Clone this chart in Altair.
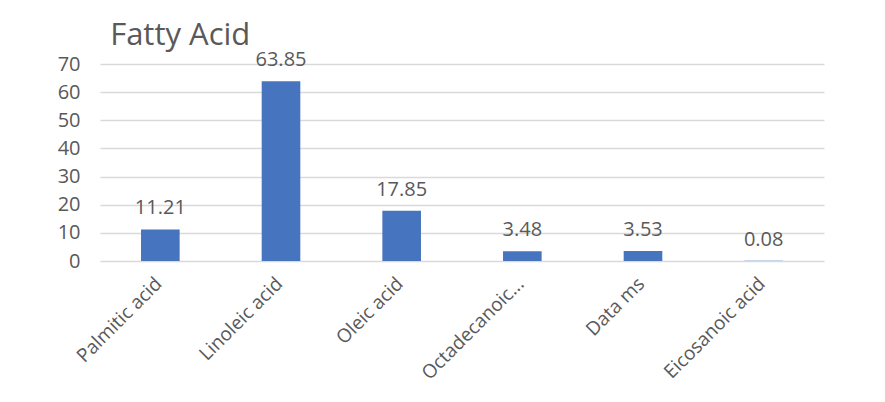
import altair as alt
import pandas as pd

categories = ["Palmitic acid", "Linoleic acid", "Oleic acid", "Octadecanoic...", "Data ms", "Eicosanoic acid"]
values = [11.21, 63.85, 17.85, 3.48, 3.53, 0.08]
labels = ["11.21", "63.85", "17.85", "3.48", "3.53", "0.08"]
y_ticks = [0, 10, 20, 30, 40, 50, 60, 70]

df = pd.DataFrame({"cat": categories, "val": values, "lab": labels})

FONT = "Open Sans"
GRAY = "#595959"

x = alt.X("cat:N", sort=categories, title=None,
          scale=alt.Scale(paddingInner=0.68, paddingOuter=0.34),
          axis=alt.Axis(labelAngle=-45, labelFontSize=19, labelColor=GRAY, labelFont=FONT,
                        ticks=False, domain=False, labelPadding=13, labelOffset=-8,
                        labelLimit=300, labelOverlap=False))
y = alt.Y("val:Q", title=None,
          scale=alt.Scale(domain=[0, 70], nice=False),
          axis=alt.Axis(values=y_ticks, labelFontSize=20, labelColor=GRAY, labelFont=FONT,
                        ticks=False, domain=False, labelPadding=20, gridColor="#d9d9d9",
                        gridWidth=1.5, labelOverlap=False))

base = alt.Chart(df).encode(x=x, y=y)
bars = base.mark_bar(color="#4674be")
text = base.mark_text(baseline="alphabetic", dy=-15, fontSize=20, color=GRAY, font=FONT).encode(
    text="lab:N")

chart = alt.layer(bars, text).properties(
    width=724, height=197,
    title=alt.TitleParams("Fatty Acid", anchor="start", fontSize=31, font=FONT, color=GRAY,
                          fontWeight="normal", dx=53, dy=10, offset=8),
    autosize=alt.AutoSizeParams(type="none"),
    padding={"left": 92, "top": 56, "right": 53, "bottom": 133},
    background="white",
).configure_view(stroke=None)

chart.save("out.html", embed_options={"renderer": "svg", "actions": False})
